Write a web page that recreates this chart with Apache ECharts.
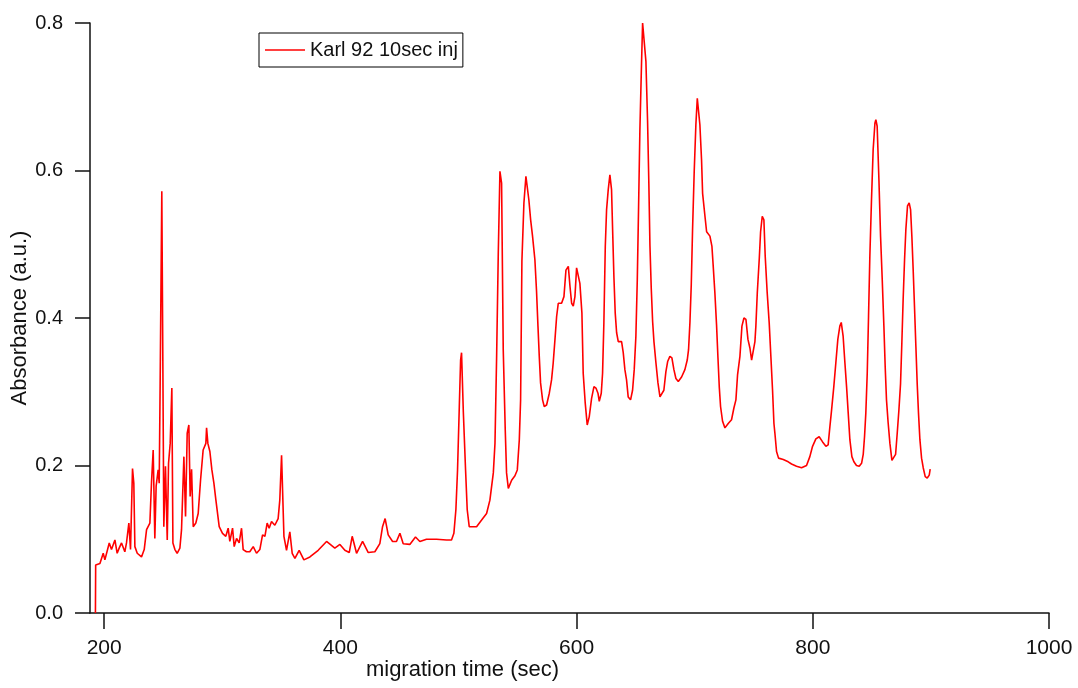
<!DOCTYPE html>
<html>
<head>
<meta charset="utf-8">
<title>Karl 92 10sec inj</title>
<script src="https://cdn.jsdelivr.net/npm/echarts@6/dist/echarts.min.js"></script>
<style>
  html, body { margin: 0; padding: 0; background: #fff; }
  #chart { width: 1078px; height: 688px; }
</style>
</head>
<body>
<div id="chart"></div>
<script>
// electropherogram (sec / a.u.)
var migrationTime = [
  192.6, 192.8, 193.5, 196.4, 199.2, 200.6, 204.3, 206.2, 209.1, 211.0, 212.7, 214.7, 217.5, 218.9, 220.9, 222.3,
  224.0, 225.1, 226.0, 228.0, 231.6, 233.9, 235.9, 238.7, 240.1, 241.5, 242.9, 244.0, 245.7, 246.6, 247.4, 248.8,
  249.7, 250.5, 251.9, 253.4, 254.5, 255.9, 257.3, 258.2, 259.9, 261.8, 264.1, 265.5, 267.5, 268.9, 270.3, 271.7,
  272.8, 274.0, 275.4, 277.6, 279.6, 281.6, 283.8, 286.1, 286.7, 287.8, 289.5, 291.2, 292.9, 294.6, 297.4, 300.2,
  303.0, 305.0, 306.4, 308.7, 310.1, 312.1, 314.3, 316.3, 317.7, 320.5, 323.3, 326.2, 329.0, 331.8, 334.1, 336.1,
  338.0, 339.7, 341.7, 344.5, 347.3, 348.7, 350.2, 351.0, 352.2, 354.4, 357.2, 359.2, 361.5, 365.1, 369.1, 374.2,
  381.2, 388.3, 395.3, 399.6, 403.8, 407.5, 410.0, 413.7, 418.8, 423.6, 429.2, 433.4, 435.7, 437.9, 440.5, 444.2,
  447.5, 450.4, 453.2, 458.8, 463.6, 467.3, 472.9, 481.4, 489.9, 494.1, 496.1, 497.8, 499.2, 500.7, 501.8, 502.6,
  504.1, 506.0, 507.4, 509.1, 515.3, 519.6, 523.8, 526.6, 529.5, 530.9, 532.3, 533.7, 535.1, 536.5, 537.9, 539.6,
  540.7, 542.2, 545.0, 547.8, 549.8, 551.5, 552.6, 553.7, 555.4, 557.1, 558.2, 559.6, 561.1, 562.7, 564.7, 566.1,
  567.3, 568.4, 569.5, 571.2, 572.6, 574.6, 576.9, 578.8, 580.2, 581.7, 583.1, 584.5, 587.3, 589.3, 591.0, 593.0,
  594.4, 595.8, 597.2, 598.6, 600.0, 601.4, 602.8, 604.5, 605.6, 607.3, 609.0, 610.7, 612.7, 614.7, 616.4, 618.1,
  619.2, 620.9, 622.0, 623.1, 624.3, 625.4, 626.8, 628.2, 629.6, 630.5, 631.6, 632.7, 633.9, 635.3, 638.1, 639.5,
  640.9, 642.3, 643.7, 645.7, 647.4, 648.8, 650.2, 651.4, 652.5, 653.6, 655.0, 655.9, 657.3, 658.7, 660.1, 661.2,
  662.1, 663.2, 664.4, 665.5, 667.2, 668.9, 670.6, 672.0, 673.9, 675.6, 677.1, 679.0, 680.7, 682.4, 684.1, 686.1,
  688.9, 691.7, 693.7, 694.8, 696.0, 697.1, 698.2, 699.6, 701.0, 702.2, 703.3, 704.4, 705.8, 706.7, 708.7, 710.1,
  712.9, 714.6, 715.7, 717.1, 718.5, 719.7, 720.8, 721.9, 723.6, 725.6, 728.4, 731.2, 733.2, 734.9, 736.3, 738.3,
  740.0, 741.7, 743.4, 745.1, 746.8, 748.2, 749.6, 751.0, 751.8, 753.0, 754.7, 755.8, 757.2, 758.6, 759.7, 761.4,
  763.1, 764.5, 765.9, 767.1, 767.9, 769.3, 771.0, 775.0, 779.2, 782.0, 786.2, 790.5, 794.7, 797.5, 799.8, 802.6,
  805.4, 808.3, 811.1, 813.0, 814.5, 815.9, 817.8, 819.5, 821.2, 822.9, 824.1, 825.7, 827.2, 828.6, 830.0, 831.4,
  833.1, 834.8, 837.0, 839.3, 841.3, 842.7, 843.8, 844.9, 846.1, 847.2, 848.3, 849.7, 851.1, 852.6, 853.4, 854.5,
  856.0, 857.4, 858.8, 860.2, 861.3, 862.4, 863.8, 865.3, 867.0, 868.6, 870.1, 871.5, 872.9, 874.3, 875.4, 876.5,
  877.7, 878.8, 880.2, 881.6, 882.8, 883.9, 885.0, 886.1, 887.3, 888.4, 889.5, 890.7, 892.1, 893.5, 895.2, 896.9,
  898.6, 899.4
];
var absorbance = [
  0.000, 0.065, 0.065, 0.067, 0.081, 0.072, 0.095, 0.086, 0.099, 0.081, 0.088, 0.095, 0.083, 0.095, 0.122, 0.086,
  0.196, 0.176, 0.090, 0.081, 0.076, 0.086, 0.113, 0.122, 0.178, 0.221, 0.101, 0.172, 0.194, 0.176, 0.312, 0.572,
  0.334, 0.117, 0.199, 0.099, 0.203, 0.230, 0.305, 0.095, 0.086, 0.081, 0.088, 0.113, 0.212, 0.131, 0.244, 0.255,
  0.158, 0.195, 0.117, 0.122, 0.135, 0.180, 0.221, 0.230, 0.251, 0.230, 0.219, 0.194, 0.176, 0.153, 0.117, 0.108,
  0.104, 0.115, 0.097, 0.115, 0.090, 0.101, 0.095, 0.115, 0.086, 0.083, 0.083, 0.090, 0.081, 0.086, 0.106, 0.104,
  0.122, 0.115, 0.124, 0.119, 0.128, 0.153, 0.214, 0.213, 0.104, 0.085, 0.110, 0.081, 0.074, 0.085, 0.072, 0.076,
  0.085, 0.097, 0.088, 0.093, 0.085, 0.082, 0.104, 0.081, 0.097, 0.082, 0.083, 0.094, 0.117, 0.128, 0.106, 0.097,
  0.097, 0.108, 0.094, 0.093, 0.103, 0.097, 0.100, 0.100, 0.099, 0.099, 0.108, 0.140, 0.194, 0.280, 0.343, 0.353,
  0.273, 0.194, 0.140, 0.117, 0.117, 0.126, 0.135, 0.153, 0.190, 0.230, 0.348, 0.488, 0.599, 0.583, 0.357, 0.248,
  0.190, 0.169, 0.180, 0.186, 0.194, 0.235, 0.289, 0.477, 0.556, 0.592, 0.594, 0.560, 0.533, 0.511, 0.479, 0.436,
  0.389, 0.348, 0.312, 0.289, 0.280, 0.282, 0.298, 0.316, 0.339, 0.371, 0.402, 0.420, 0.420, 0.429, 0.465, 0.470,
  0.443, 0.420, 0.416, 0.429, 0.468, 0.470, 0.447, 0.407, 0.325, 0.285, 0.255, 0.266, 0.291, 0.307, 0.305, 0.298,
  0.287, 0.298, 0.325, 0.393, 0.497, 0.547, 0.574, 0.594, 0.574, 0.520, 0.456, 0.407, 0.380, 0.368, 0.368, 0.353,
  0.330, 0.316, 0.293, 0.289, 0.302, 0.330, 0.375, 0.452, 0.551, 0.655, 0.746, 0.800, 0.798, 0.748, 0.667, 0.581,
  0.499, 0.441, 0.395, 0.368, 0.339, 0.312, 0.293, 0.291, 0.302, 0.327, 0.341, 0.348, 0.346, 0.330, 0.318, 0.314,
  0.320, 0.330, 0.343, 0.357, 0.395, 0.445, 0.520, 0.599, 0.662, 0.698, 0.696, 0.662, 0.615, 0.569, 0.538, 0.517,
  0.511, 0.497, 0.470, 0.434, 0.391, 0.346, 0.307, 0.280, 0.260, 0.251, 0.257, 0.262, 0.278, 0.289, 0.323, 0.348,
  0.389, 0.400, 0.398, 0.371, 0.359, 0.343, 0.343, 0.368, 0.389, 0.434, 0.481, 0.517, 0.538, 0.533, 0.484, 0.434,
  0.393, 0.348, 0.303, 0.257, 0.244, 0.219, 0.210, 0.208, 0.205, 0.202, 0.199, 0.197, 0.200, 0.212, 0.226, 0.236,
  0.239, 0.232, 0.226, 0.228, 0.253, 0.275, 0.307, 0.339, 0.371, 0.389, 0.394, 0.375, 0.339, 0.307, 0.271, 0.235,
  0.212, 0.205, 0.200, 0.199, 0.203, 0.215, 0.239, 0.271, 0.325, 0.402, 0.483, 0.560, 0.628, 0.664, 0.669, 0.660,
  0.587, 0.510, 0.452, 0.389, 0.334, 0.289, 0.258, 0.230, 0.207, 0.205, 0.215, 0.244, 0.275, 0.311, 0.366, 0.425,
  0.479, 0.520, 0.552, 0.556, 0.547, 0.510, 0.465, 0.416, 0.361, 0.311, 0.271, 0.235, 0.210, 0.197, 0.185, 0.183,
  0.187, 0.195
];
var xTicks = [200, 400, 600, 800, 1000];
var yTicks = [0, 0.2, 0.4, 0.6, 0.8];
var seriesName = 'Karl 92 10sec inj';

var trace = migrationTime.map(function (t, i) { return [t, absorbance[i]]; });

var font = 'Liberation Sans, Arial, sans-serif';
var ink = '#111';

var chart = echarts.init(document.getElementById('chart'));
chart.setOption({
  backgroundColor: '#fff',
  animation: false,
  grid: { left: 90, right: 29, top: 23, bottom: 75, outerBoundsMode: 'none' },
  legend: {
    left: 259, top: 33,
    padding: [7, 5, 7, 6],
    borderColor: '#000', borderWidth: 1,
    icon: 'rect',
    itemWidth: 40, itemHeight: 1.5,
    itemStyle: { color: '#ff0000' },
    textStyle: { fontFamily: font, fontSize: 20, color: ink },
    data: [seriesName]
  },
  xAxis: {
    type: 'value',
    min: 188, max: 1000,
    name: 'migration time (sec)',
    nameLocation: 'middle',
    nameGap: 46,
    nameMoveOverlap: false,
    nameTextStyle: { fontFamily: font, fontSize: 22, color: ink, padding: [0, 214, 0, 0] },
    splitLine: { show: false },
    axisLine: { lineStyle: { color: ink, width: 1.5 } },
    axisTick: { customValues: xTicks, length: 16, lineStyle: { color: ink, width: 1.5 } },
    axisLabel: {
      customValues: xTicks, margin: 25, fontFamily: font, fontSize: 21, color: ink,
      formatter: function (v) { return String(v); }
    }
  },
  yAxis: {
    type: 'value',
    min: 0, max: 0.8, interval: 0.2,
    name: 'Absorbance (a.u.)',
    nameLocation: 'middle',
    nameGap: 59,
    nameMoveOverlap: false,
    nameTextStyle: { fontFamily: font, fontSize: 22, color: ink },
    splitLine: { show: false },
    axisLine: { show: true, lineStyle: { color: ink, width: 1.5 } },
    axisTick: { show: true, customValues: yTicks, length: 15, lineStyle: { color: ink, width: 1.5 } },
    axisLabel: {
      customValues: yTicks, margin: 27, fontFamily: font, fontSize: 20, color: ink,
      formatter: function (v) { return v.toFixed(1); }
    }
  },
  series: [{
    name: seriesName,
    type: 'line',
    symbol: 'none',
    data: trace,
    lineStyle: { color: '#ff0000', width: 1.6 },
    itemStyle: { color: '#ff0000' }
  }]
});
</script>
</body>
</html>
